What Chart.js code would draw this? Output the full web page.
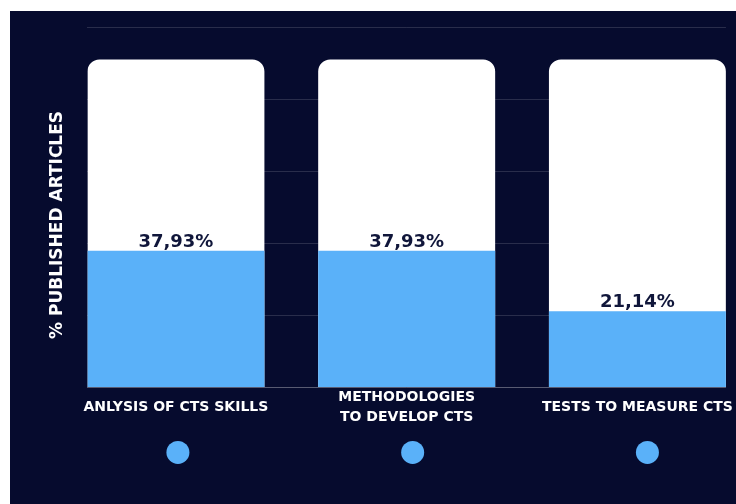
<!DOCTYPE html>
<html>
<head>
<meta charset="utf-8">
<script src="https://cdn.jsdelivr.net/npm/chart.js@4/dist/chart.umd.min.js"></script>
<style>
  html, body { margin: 0; padding: 0; background: #ffffff; }
  .panel { position: absolute; left: 10px; top: 11px; width: 726px; height: 493px; background: #060b2e; }
</style>
</head>
<body>
<div class="panel"><canvas id="BarChart" width="726" height="493"></canvas></div>
<script>
const categories = [["ANLYSIS OF CTS SKILLS"], ["METHODOLOGIES", "TO DEVELOP CTS"], ["TESTS TO MEASURE CTS"]];
const percentages = [37.93, 37.93, 21.14];
const trackValues = [91, 91, 91];
const yTickStep = 20;

const blue = "#5ab1f9";
const font = "'DejaVu Sans'";

// value labels + dots under each category
const extras = {
  id: "extras",
  afterDatasetsDraw(chart) {
    const ctx = chart.ctx;
    const meta = chart.getDatasetMeta(0);
    ctx.save();
    ctx.fillStyle = "#10163a";
    ctx.font = "bold 18px " + font;
    ctx.textAlign = "center";
    ctx.textBaseline = "alphabetic";
    meta.data.forEach((bar, i) => {
      const txt = percentages[i].toFixed(2).replace(".", ",") + "%";
      ctx.fillText(txt, bar.x, bar.y - 4);
    });
    ctx.restore();
  },
  afterDraw(chart) {
    const ctx = chart.ctx;
    const xs = chart.scales.x;
    ctx.save();
    ctx.fillStyle = blue;
    categories.forEach((c, i) => {
      ctx.beginPath();
      ctx.arc(xs.getPixelForValue(i) + 2 + i * 4, xs.top + 65, 11.5, 0, Math.PI * 2);
      ctx.fill();
    });
    ctx.restore();
  }
};

const ctx = document.getElementById("BarChart").getContext("2d");
const chart = new Chart(ctx, {
  type: "bar",
  data: {
    datasets: [
      {
        label: "Published",
        data: percentages.map((v, i) => ({ x: i, y: v })),
        backgroundColor: blue,
        borderWidth: 0,
      },
      {
        label: "Track",
        data: trackValues.map((v, i) => ({ x: i, y: v })),
        backgroundColor: "#ffffff",
        borderWidth: 0,
        borderRadius: { topLeft: 12, topRight: 12, bottomLeft: 0, bottomRight: 0 },
        borderSkipped: "bottom",
      },
    ],
  },
  options: {
    responsive: false,
    animation: false,
    layout: { padding: { left: 37, right: 8, top: 16, bottom: 64 } },
    datasets: { bar: { grouped: false, categoryPercentage: 1, barPercentage: 0.767 } },
    plugins: { legend: { display: false }, tooltip: { enabled: false } },
    scales: {
      x: {
        type: "linear",
        offset: false,
        min: -0.3836,
        max: 2.3836,
        grid: { display: false, offset: false },
        border: { display: true, color: "rgba(255,255,255,0.22)" },
        ticks: {
          stepSize: 1,
          includeBounds: false,
          padding: 2,
          crossAlign: "center",
          color: "#ffffff",
          font: { family: font, size: 14, weight: "bold", lineHeight: 1.45 },
          maxRotation: 0,
          autoSkip: false,
          callback: (v) => (Number.isInteger(v) && categories[v] ? categories[v] : ""),
        },
      },
      y: {
        min: 0,
        max: 100,
        ticks: { display: false, stepSize: yTickStep },
        grid: { color: "rgba(255,255,255,0.14)", drawTicks: false },
        border: { display: false },
        title: {
          display: true,
          // trailing spaces nudge the centred title down like the original
          text: "% PUBLISHED ARTICLES\u00a0\u00a0\u00a0\u00a0\u00a0\u00a0",
          color: "#ffffff",
          font: { family: font, size: 17, weight: "bold" },
          padding: { top: 0, bottom: 20 },
        },
      },
    },
  },
  plugins: [extras],
});
</script>
</body>
</html>
